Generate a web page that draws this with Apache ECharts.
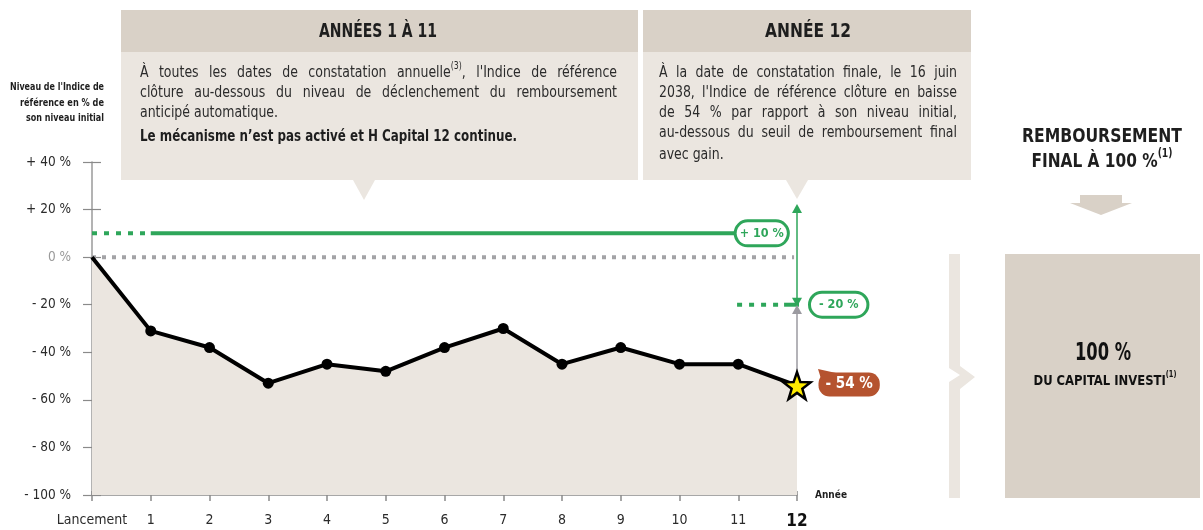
<!DOCTYPE html>
<html>
<head>
<meta charset="utf-8">
<script src="https://cdn.jsdelivr.net/npm/echarts@6/dist/echarts.min.js"></script>
<style>
html, body { margin: 0; padding: 0; background: #fff; }
#container { width: 1203px; height: 530px; }
</style>
</head>
<body>
<div id="container"></div>
<script>
var FONT = "'DejaVu Sans Condensed', 'DejaVu Sans', sans-serif";

// données du graphique
var years = [0, 1, 2, 3, 4, 5, 6, 7, 8, 9, 10, 11, 12];
var yearLabels = ['Lancement', '1', '2', '3', '4', '5', '6', '7', '8', '9', '10', '11', '12'];
var indexLevels = [0, -31, -38, -53, -45, -48, -38, -30, -45, -38, -45, -45, -54];
var yMin = -100, yMax = 40, yStep = 20;
var gainLevel = 10;      // seuil de remboursement avec gain
var capitalLevel = -20;  // seuil de remboursement final
var initialLevel = 0;

// segments des seuils (en années)
var initialLine = [0, 11.95];
var gainDotted = [0, 1];
var gainSolid = [1, 10.96];
var capitalDotted = [10.98, 11.74];
var capitalSolid = [11.78, 12.18];
var gainLabelX = 11.4;
var capitalLabelX = 12.71;
var greenArrow = [20.5, -19];
var greyArrow = [-50, -22];

var GREEN = '#2ea65a';
var RUST = '#b5532f';
var BEIGE = '#ebe6e0';
var BEIGE_DARK = '#d9d1c7';
var INK = '#2b2b2b';
var COND = 0.87;
var BODY = 16;

var STAR = 'path://M50,2 L62,36 L98,37 L69,59 L80,94 L50,73 L20,94 L31,59 L2,37 L38,36 Z';

function pctLabel(v) {
    if (v > 0) return '+ ' + v + ' %';
    if (v < 0) return '- ' + (-v) + ' %';
    return '0 %';
}

function seg(range, level) {
    return [[range[0], level], [range[1], level]];
}

// mesure du texte (gère les exposants {sup|...})
var ctx = document.createElement('canvas').getContext('2d');
function fontStr(weight, size) {
    return weight + ' ' + size + 'px ' + FONT;
}
function textWidth(text, size, weight) {
    var re = /\{(\w+)\|([^}]*)\}/g, last = 0, w = 0, m;
    while ((m = re.exec(text)) !== null) {
        ctx.font = fontStr(weight, size);
        w += ctx.measureText(text.slice(last, m.index)).width;
        ctx.font = fontStr(weight, Math.round(size * 0.6));
        w += ctx.measureText(m[2]).width;
        last = re.lastIndex;
    }
    ctx.font = fontStr(weight, size);
    w += ctx.measureText(text.slice(last)).width;
    return w;
}
function supRich(size, weight, color) {
    return {
        sup: {
            fontSize: Math.round(size * 0.6), fontFamily: FONT, fontWeight: weight,
            verticalAlign: 'top', lineHeight: Math.round(size * 1.45), fill: color
        }
    };
}
function textEl(x, y, text, size, weight, color, align, scale) {
    return {
        type: 'text', silent: true, z: 10, x: x, y: y, scaleX: scale,
        style: {
            x: 0, y: 0, text: text, font: fontStr(weight, size), fill: color,
            align: align, verticalAlign: 'middle', rich: supRich(size, weight, color)
        }
    };
}
// texte ajusté à une largeur donnée
function fitText(x, y, text, size, weight, width, align, color) {
    return textEl(x, y, text, size, weight, color || INK, align, width / textWidth(text, size, weight));
}
// ligne justifiée
function justify(x, y, width, text, size, weight, color) {
    var words = text.split(' ');
    var widths = words.map(function (w) { return textWidth(w, size, weight) * COND; });
    var total = widths.reduce(function (a, b) { return a + b; }, 0);
    var gap = (width - total) / (words.length - 1);
    var els = [], cx = x;
    for (var i = 0; i < words.length; i++) {
        els.push(textEl(cx, y, words[i], size, weight, color || INK, 'left', COND));
        cx += widths[i] + gap;
    }
    return els;
}
function plain(x, y, text, size, weight, color) {
    return textEl(x, y, text, size, weight, color || INK, 'left', COND);
}

var lineData = [];
for (var i = 0; i < years.length; i++) {
    var item = { value: [years[i], indexLevels[i]] };
    if (i === 0) item.symbol = 'none';
    if (i === years.length - 1) {
        item.symbol = STAR;
        item.symbolSize = 27;
        item.itemStyle = { color: '#ffec00', borderColor: '#000', borderWidth: 2.5 };
    }
    lineData.push(item);
}

var graphics = [
    // encadré années 1 à 11
    { type: 'rect', shape: { x: 121, y: 10, width: 517, height: 42 }, style: { fill: BEIGE_DARK }, silent: true },
    { type: 'rect', shape: { x: 121, y: 52, width: 517, height: 128 }, style: { fill: BEIGE }, silent: true },
    { type: 'polygon', shape: { points: [[353, 180], [375, 180], [364, 200]] }, style: { fill: BEIGE }, silent: true },
    fitText(378, 32, 'ANNÉES 1 À 11', 20, 'bold', 118, 'center', '#1e1e1e'),
    // encadré année 12
    { type: 'rect', shape: { x: 643, y: 10, width: 328, height: 42 }, style: { fill: BEIGE_DARK }, silent: true },
    { type: 'rect', shape: { x: 643, y: 52, width: 328, height: 128 }, style: { fill: BEIGE }, silent: true },
    { type: 'polygon', shape: { points: [[786, 180], [808, 180], [797, 199]] }, style: { fill: BEIGE }, silent: true },
    fitText(808, 32, 'ANNÉE 12', 20, 'bold', 86, 'center', '#1e1e1e'),
    plain(140, 113, 'anticipé automatique.', BODY, 'normal'),
    fitText(140, 137, 'Le mécanisme n’est pas activé et H Capital 12 continue.', BODY, 'bold', 377, 'left', '#1e1e1e'),
    plain(659, 155, 'avec gain.', BODY, 'normal'),

    // titre de l'axe vertical
    fitText(104, 87, 'Niveau de l\'Indice de', 11, 'bold', 94, 'right', '#1e1e1e'),
    fitText(104, 103, 'référence en % de', 11, 'bold', 84, 'right', '#1e1e1e'),
    fitText(104, 118, 'son niveau initial', 11, 'bold', 78, 'right', '#1e1e1e'),

    // remboursement final
    fitText(1102, 137, 'REMBOURSEMENT', 20, 'bold', 160, 'center', '#1e1e1e'),
    fitText(1102, 162, 'FINAL À 100 %{sup|(1)}', 20, 'bold', 141, 'center', '#1e1e1e'),
    { type: 'rect', shape: { x: 1080, y: 195, width: 42, height: 9 }, style: { fill: BEIGE_DARK }, silent: true },
    { type: 'polygon', shape: { points: [[1070, 203], [1132, 203], [1101, 215]] }, style: { fill: BEIGE_DARK }, silent: true },
    { type: 'polygon', shape: { points: [[949, 254], [960, 254], [960, 366], [975, 377], [960, 389], [960, 498], [949, 498], [949, 382], [960, 375], [949, 368]] }, style: { fill: BEIGE }, silent: true },
    { type: 'rect', shape: { x: 1005, y: 254, width: 195, height: 244 }, style: { fill: BEIGE_DARK }, silent: true },
    fitText(1103, 354, '100 %', 24, 'bold', 56, 'center', '#111'),
    fitText(1105, 381, 'DU CAPITAL INVESTI{sup|(1)}', 14, 'bold', 143, 'center', '#111')
];
graphics = graphics
    .concat(justify(140, 73, 477, 'À toutes les dates de constatation annuelle{sup|(3)}, l\'Indice de référence', BODY, 'normal'))
    .concat(justify(140, 93, 477, 'clôture au-dessous du niveau de déclenchement du remboursement', BODY, 'normal'))
    .concat(justify(659, 73, 298, 'À la date de constatation finale, le 16 juin', BODY, 'normal'))
    .concat(justify(659, 93, 298, '2038, l\'Indice de référence clôture en baisse', BODY, 'normal'))
    .concat(justify(659, 113, 298, 'de 54 % par rapport à son niveau initial,', BODY, 'normal'))
    .concat(justify(659, 133, 298, 'au-dessous du seuil de remboursement final', BODY, 'normal'));

function pillLabel(text, color, padX) {
    return {
        show: true, position: 'inside', formatter: text,
        color: color, fontFamily: FONT, fontWeight: 'bold', fontSize: 12.5,
        backgroundColor: '#fff', borderColor: color, borderWidth: 3,
        borderRadius: 13, padding: [5, padX, 4, padX]
    };
}

var option = {
    animation: false,
    grid: { left: 92, right: 406, top: 162, bottom: 34 },
    xAxis: [{
        type: 'value', min: 0, max: 12, interval: 1,
        axisLine: { onZero: false, lineStyle: { color: '#8a8a8a', width: 1.5 } },
        axisTick: { inside: false, length: 6, lineStyle: { color: '#8a8a8a', width: 1.5 } },
        splitLine: { show: false },
        axisLabel: {
            margin: 18, color: INK, fontFamily: FONT, fontSize: 14,
            formatter: function (v) {
                return v === 12 ? '{b|12}' : yearLabels[v];
            },
            rich: { b: { fontFamily: FONT, fontSize: 17, fontWeight: 'bold', color: '#111' } }
        },
        name: 'Année', nameLocation: 'end', nameGap: 18,
        nameTextStyle: { fontFamily: FONT, fontSize: 10, fontWeight: 'bold', color: '#1e1e1e', verticalAlign: 'middle' }
    }, {
        type: 'value', min: 0, max: 12, interval: 1, position: 'bottom',
        axisLine: { show: false, onZero: false },
        axisTick: { inside: true, length: 4, lineStyle: { color: '#8a8a8a', width: 1.5 } },
        axisLabel: { show: false }, splitLine: { show: false }
    }],
    yAxis: [{
        type: 'value', min: yMin, max: yMax, interval: yStep,
        axisLine: { show: true, onZero: false, lineStyle: { color: '#9a9a9a', width: 1.5 } },
        axisTick: { show: true, length: 9, lineStyle: { color: '#8a8a8a', width: 1.2 } },
        splitLine: { show: false },
        axisLabel: {
            margin: 21, fontFamily: FONT, fontSize: 13.5,
            formatter: pctLabel,
            color: function (v) { return Number(v) === 0 ? '#9a9a9a' : INK; }
        }
    }, {
        type: 'value', min: yMin, max: yMax, interval: yStep, position: 'left',
        axisLine: { show: false, onZero: false },
        axisTick: { show: true, inside: true, length: 9, lineStyle: { color: '#8a8a8a', width: 1.2 } },
        axisLabel: { show: false }, splitLine: { show: false }
    }],
    graphic: graphics,
    series: [
        {
            name: 'Indice', type: 'line', data: lineData, z: 5,
            symbol: 'circle', symbolSize: 11,
            itemStyle: { color: '#000' },
            lineStyle: { color: '#000', width: 4 },
            areaStyle: { color: BEIGE, opacity: 1, origin: 'start' }
        },
        {
            name: 'Niveau initial', type: 'line', symbol: 'none', z: 3,
            data: seg(initialLine, initialLevel),
            lineStyle: { color: '#a3a3a6', width: 4, type: [4, 6] }
        },
        {
            name: 'Gain pointillé', type: 'line', symbol: 'none', z: 3,
            data: seg(gainDotted, gainLevel),
            lineStyle: { color: GREEN, width: 4, type: [5, 7] }
        },
        {
            name: 'Gain', type: 'line', symbol: 'none', z: 3,
            data: seg(gainSolid, gainLevel),
            lineStyle: { color: GREEN, width: 4 }
        },
        {
            name: 'Capital pointillé', type: 'line', symbol: 'none', z: 3, clip: false,
            data: seg(capitalDotted, capitalLevel),
            lineStyle: { color: GREEN, width: 4, type: [5, 7] }
        },
        {
            name: 'Capital', type: 'line', symbol: 'none', z: 3, clip: false,
            data: seg(capitalSolid, capitalLevel),
            lineStyle: { color: GREEN, width: 4 },
            markLine: {
                silent: true, animation: false, label: { show: false },
                symbol: ['triangle', 'triangle'], symbolSize: [10, 9],
                data: [
                    [{ coord: [12, greenArrow[0]], lineStyle: { color: GREEN, width: 1.5, type: 'solid' } },
                     { coord: [12, greenArrow[1]] }],
                    [{ coord: [12, greyArrow[0]], symbol: 'none', lineStyle: { color: '#9b9aa0', width: 1.5, type: 'solid' } },
                     { coord: [12, greyArrow[1]], symbol: 'triangle' }]
                ]
            }
        },
        {
            name: 'Étiquettes', type: 'scatter', clip: false, z: 6,
            symbolSize: 1, itemStyle: { color: 'rgba(0,0,0,0)', opacity: 1 },
            data: [
                { value: [gainLabelX, gainLevel], label: pillLabel(pctLabel(gainLevel), GREEN, 3) },
                { value: [capitalLabelX, capitalLevel], label: pillLabel(pctLabel(capitalLevel), GREEN, 8) }
            ]
        },
        {
            name: 'Bulle', type: 'scatter', clip: false, z: 6,
            symbol: 'path://M0,0 L18,4 L4,13 Z', symbolSize: [18, 13], symbolOffset: [30, -10],
            itemStyle: { color: RUST, opacity: 1 },
            data: [[years[12], indexLevels[12]]]
        },
        {
            name: 'Final', type: 'scatter', clip: false, z: 7,
            symbolSize: 1, itemStyle: { color: 'rgba(0,0,0,0)', opacity: 1 },
            data: [{
                value: [years[12], indexLevels[12]],
                label: {
                    show: true, position: 'right', distance: 21, offset: [0, -1],
                    formatter: pctLabel(indexLevels[12]),
                    color: '#fff', fontFamily: FONT, fontWeight: 'bold', fontSize: 15,
                    backgroundColor: RUST, borderRadius: 11, padding: [5, 7, 4, 7]
                }
            }]
        }
    ]
};

var myChart = echarts.init(document.getElementById('container'));
myChart.setOption(option);
</script>
</body>
</html>
